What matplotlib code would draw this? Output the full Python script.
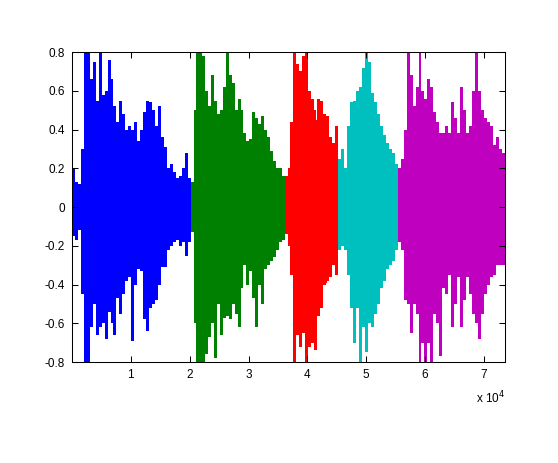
import numpy as np
import matplotlib
matplotlib.use("Agg")
import matplotlib.pyplot as plt

# limites de cada trecho (amostras)
seg_bounds = [1, 20150, 36120, 45130, 55330, 73570]
seg_colors = [(0, 0, 1), (0, 0.5, 0), (1, 0, 0), (0, 0.75, 0.75), (0.75, 0, 0.75)]

# picos (max / min) lidos a cada ~500 amostras
blue_hi = [0.2, 0.13, 0.12, 0.3, 0.85, 0.85, 0.66, 0.75, 0.55, 0.82,
           0.58, 0.6, 0.76, 0.66, 0.52, 0.44, 0.55, 0.48, 0.4, 0.42,
           0.4, 0.44, 0.34, 0.4, 0.49, 0.55, 0.54, 0.5, 0.42, 0.52,
           0.36, 0.25, 0.2, 0.22, 0.18, 0.15, 0.16, 0.2, 0.28, 0.15]
blue_lo = [-0.15, -0.17, -0.12, -0.45, -0.85, -0.85, -0.62, -0.5, -0.66, -0.62,
           -0.6, -0.68, -0.54, -0.6, -0.66, -0.47, -0.55, -0.45, -0.38, -0.36,
           -0.69, -0.4, -0.32, -0.33, -0.58, -0.64, -0.52, -0.5, -0.48, -0.4,
           -0.3, -0.28, -0.22, -0.2, -0.18, -0.17, -0.2, -0.18, -0.25, -0.18]

green_hi = [0.13, 0.5, 0.85, 0.85, 0.78, 0.6, 0.52, 0.68, 0.55, 0.48,
            0.5, 0.62, 0.82, 0.68, 0.64, 0.5, 0.56, 0.5, 0.38, 0.34,
            0.3, 0.49, 0.46, 0.43, 0.47, 0.4, 0.36, 0.26, 0.24, 0.2,
            0.2, 0.16]
green_lo = [-0.13, -0.6, -0.85, -0.85, -0.8, -0.76, -0.67, -0.6, -0.78, -0.5,
            -0.66, -0.57, -0.56, -0.58, -0.5, -0.55, -0.62, -0.42, -0.3, -0.4,
            -0.32, -0.47, -0.62, -0.4, -0.5, -0.32, -0.3, -0.28, -0.26, -0.22,
            -0.18, -0.17]

red_hi = [0.16, 0.2, 0.44, 0.82, 0.74, 0.7, 0.78, 0.82, 0.6, 0.56,
          0.45, 0.56, 0.55, 0.48, 0.47, 0.36, 0.33, 0.42]
red_lo = [-0.14, -0.2, -0.35, -0.85, -0.66, -0.72, -0.65, -0.8, -0.72, -0.7,
          -0.74, -0.56, -0.52, -0.4, -0.38, -0.36, -0.3, -0.35]

cyan_hi = [0.25, 0.3, 0.2, 0.42, 0.54, 0.55, 0.6, 0.62, 0.72, 0.82,
           0.75, 0.59, 0.54, 0.48, 0.42, 0.37, 0.33, 0.3, 0.28, 0.22]
cyan_lo = [-0.22, -0.2, -0.22, -0.35, -0.52, -0.7, -0.52, -0.82, -0.62, -0.75,
           -0.6, -0.62, -0.55, -0.5, -0.42, -0.38, -0.32, -0.3, -0.28, -0.22]

mag_hi = [0.2, 0.25, 0.4, 0.82, 0.68, 0.52, 0.62, 0.82, 0.6, 0.56,
          0.66, 0.62, 0.49, 0.44, 0.38, 0.32, 0.42, 0.38, 0.54, 0.46,
          0.3, 0.62, 0.5, 0.3, 0.42, 0.6, 0.82, 0.6, 0.5, 0.46,
          0.44, 0.42, 0.32, 0.36, 0.3, 0.28]
mag_lo = [-0.18, -0.22, -0.48, -0.5, -0.65, -0.5, -0.55, -0.82, -0.7, -0.82,
          -0.7, -0.82, -0.55, -0.6, -0.77, -0.42, -0.45, -0.35, -0.62, -0.5,
          -0.3, -0.62, -0.48, -0.3, -0.45, -0.55, -0.6, -0.68, -0.55, -0.45,
          -0.4, -0.36, -0.35, -0.3, -0.3, -0.3]

# parte "cheia" do sinal, lida a cada ~2000 amostras
blue_core_hi = [0.12, 0.5, 0.5, 0.43, 0.33, 0.31, 0.4, 0.31, 0.14, 0.14]
blue_core_lo = [-0.12, -0.5, -0.45, -0.4, -0.29, -0.31, -0.43, -0.31, -0.17, -0.15]
green_core_hi = [0.13, 0.5, 0.47, 0.42, 0.31, 0.35, 0.29, 0.16]
green_core_lo = [-0.13, -0.5, -0.43, -0.4, -0.29, -0.33, -0.27, -0.17]
red_core_hi = [0.15, 0.57, 0.5, 0.41, 0.25]
red_core_lo = [-0.14, -0.57, -0.53, -0.39, -0.26]
cyan_core_hi = [0.2, 0.47, 0.55, 0.36, 0.22]
cyan_core_lo = [-0.2, -0.45, -0.45, -0.33, -0.22]
mag_core_hi = [0.2, 0.5, 0.45, 0.38, 0.32, 0.38, 0.4, 0.38, 0.28]
mag_core_lo = [-0.18, -0.46, -0.44, -0.38, -0.33, -0.36, -0.39, -0.36, -0.29]

highs = [blue_hi, green_hi, red_hi, cyan_hi, mag_hi]
lows = [blue_lo, green_lo, red_lo, cyan_lo, mag_lo]
core_highs = [blue_core_hi, green_core_hi, red_core_hi, cyan_core_hi, mag_core_hi]
core_lows = [blue_core_lo, green_core_lo, red_core_lo, cyan_core_lo, mag_core_lo]

xticks = [10000, 20000, 30000, 40000, 50000, 60000, 70000]
xticklabels = ["1", "2", "3", "4", "5", "6", "7"]
yticks = [-0.8, -0.6, -0.4, -0.2, 0, 0.2, 0.4, 0.6, 0.8]
yticklabels = ["-0.8", "-0.6", "-0.4", "-0.2", "0", "0.2", "0.4", "0.6", "0.8"]

plt.rcParams['font.family'] = ['Liberation Sans', 'DejaVu Sans']

fig = plt.figure(figsize=(5.58, 4.63), dpi=100)
ax = fig.add_axes([0.129, 0.218, 0.776, 0.6695])

for i in range(5):
    a, b = seg_bounds[i], seg_bounds[i + 1]
    c = seg_colors[i]

    # miolo
    nc = len(core_highs[i])
    wc = (b - a) / nc
    xc = a + wc * (np.arange(nc) + 0.5)
    chi = np.array(core_highs[i])
    clo = np.array(core_lows[i])
    ax.bar(xc, chi - clo, bottom=clo, width=wc, color=c, linewidth=0)

    # picos
    n = len(highs[i])
    w = (b - a) / n
    x = a + w * (np.arange(n) + 0.5)
    hi = np.array(highs[i])
    lo = np.array(lows[i])
    ax.bar(x, hi - lo, bottom=lo, width=w, color=c, linewidth=0)

ax.set_xlim(seg_bounds[0], seg_bounds[-1])
ax.set_ylim(-0.8, 0.8)
ax.set_xticks(xticks)
ax.set_xticklabels(xticklabels)
ax.set_yticks(yticks)
ax.set_yticklabels(yticklabels)
ax.tick_params(direction='in', length=4, width=0.75, top=True, right=True,
               labelsize=8.5, pad=5)
for s in ax.spines.values():
    s.set_linewidth(0.75)

ax.text(1.0, -0.132, r'x 10$^4$', transform=ax.transAxes, ha='right',
        va='baseline', fontsize=8.5)

fig.savefig("out.png", dpi=100)
